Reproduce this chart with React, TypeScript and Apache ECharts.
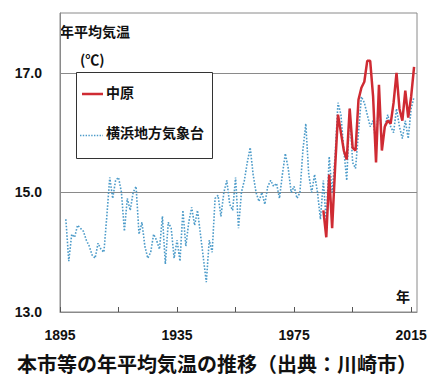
import React, { useEffect, useRef } from "react";
import * as echarts from "echarts";

const yokohamaStartYear = 1897;
const yokohamaTemps = [
  14.55, 13.85, 14.3, 14.25, 14.45, 14.4, 14.35, 14.2, 14.1, 13.95,
  13.9, 14.15, 14.05, 14.0, 14.6, 15.25, 14.9, 15.2, 15.25, 15.0,
  14.35, 14.9, 14.7, 15.0, 15.1, 14.3, 14.5, 14.1, 13.9, 14.0,
  14.3, 14.2, 14.05, 14.6, 13.8, 14.5, 14.4, 13.9, 14.2, 13.85,
  14.7, 14.1, 14.5, 14.75, 14.45, 14.7, 14.3, 13.9, 13.5, 14.2,
  14.0, 14.9, 14.95, 14.6, 15.0, 15.2, 14.8, 14.7, 15.25, 14.4,
  15.0, 15.2, 15.5, 15.75, 15.3, 15.0, 14.85, 15.0, 14.8, 15.1,
  15.2, 15.1, 15.15, 14.9, 15.3, 15.65, 15.4, 15.0, 15.1, 14.9,
  15.0, 15.7, 16.15, 15.3, 15.0, 15.3, 15.0, 14.55, 15.2, 14.5,
  15.6, 15.0, 15.6, 16.5, 16.3, 15.7, 15.2, 16.4, 15.5, 15.4,
  16.0, 16.6, 16.5, 16.3, 16.1, 16.2, 15.8, 16.6, 15.8, 16.1,
  16.3, 16.1, 16.0, 16.4, 16.1, 15.9, 16.2, 15.9, 16.4, 16.6,
];

const nakaharaStartYear = 1985;
const nakaharaTemps = [
  14.7, 14.25, 15.3, 14.4, 15.4, 16.3, 16.0, 15.7, 15.55, 16.4,
  15.75, 15.7, 16.55, 16.75, 16.85, 17.2, 17.2, 16.6, 15.5, 16.8,
  15.7, 16.1, 16.2, 16.15, 16.5, 17.0, 16.4, 16.2, 16.7, 16.25,
  16.6, 17.1,
];

const xTickYears = [1895, 1915, 1935, 1955, 1975, 1995, 2015];
const xLabelYears = [1895, 1935, 1975, 2015];
const yTickValues = [13, 15, 17];

const seriesNames = ["中原", "横浜地方気象台"];
const chartTitle = "本市等の年平均気温の推移（出典：川崎市）";

const RED = "#cf2b33";
const BLUE = "#4c9bc9";

const toPairs = (start: number, vals: number[]) =>
  vals.map((v, i) => [start + i, v]);

const JP = "'Noto Sans CJK JP', 'Noto Sans', sans-serif";
const NUM = "'Liberation Sans', Arial, sans-serif";

export default function App() {
  const ref = useRef<HTMLDivElement>(null);
  useEffect(() => {
    if (!ref.current) return;
    const chart = echarts.init(ref.current, null, { renderer: "svg" });
    const legendText = (text: string, y: number) => ({
      type: "text",
      left: 106,
      top: y - 10,
      z: 20,
      style: { text, fontFamily: JP, fontSize: 14, fontWeight: "bold", fill: "#111" },
    });
    chart.setOption({
      animation: false,
      backgroundColor: "#ffffff",
      title: {
        text: chartTitle,
        left: 17,
        top: 352,
        padding: 0,
        textStyle: { fontFamily: JP, fontSize: 20, lineHeight: 22, fontWeight: "bold", color: "#111" },
      },
      grid: {
        left: 60,
        right: 14,
        top: 13,
        bottom: 64,
        show: true,
        borderColor: "#8a8a8a",
        borderWidth: 1,
        backgroundColor: "transparent",
      },
      xAxis: {
        type: "value",
        min: 1895,
        max: 2017,
        axisLine: { show: true, lineStyle: { color: "#8a8a8a" } },
        axisTick: {
          show: true,
          inside: true,
          length: 5,
          customValues: xTickYears,
          lineStyle: { color: "#555" },
        },
        axisLabel: {
          customValues: xLabelYears,
          margin: 15,
          fontFamily: NUM,
          fontSize: 14,
          lineHeight: 16,
          fontWeight: "bold",
          color: "#111",
          formatter: (v: number) => String(v),
        },
        splitLine: { show: false },
      },
      yAxis: {
        type: "value",
        min: 13,
        max: 18,
        axisLine: { show: true, lineStyle: { color: "#8a8a8a" } },
        axisTick: { show: false, customValues: yTickValues },
        axisLabel: {
          customValues: yTickValues,
          margin: 18,
          fontFamily: NUM,
          fontSize: 14,
          fontWeight: "bold",
          color: "#111",
          formatter: (v: number) => v.toFixed(1),
        },
        splitLine: { show: true, lineStyle: { color: "#8a8a8a", width: 1 } },
      },
      graphic: [
        {
          type: "text",
          left: 60,
          top: 24,
          style: { text: "年平均気温", fontFamily: JP, fontSize: 14, fontWeight: "bold", fill: "#111" },
        },
        {
          type: "text",
          left: 80,
          top: 52,
          style: { text: "(℃)", fontFamily: JP, fontSize: 14, fontWeight: "bold", fill: "#111" },
        },
        {
          type: "text",
          left: 396,
          top: 289,
          style: { text: "年", fontFamily: JP, fontSize: 14, fontWeight: "bold", fill: "#111" },
        },
        {
          type: "rect",
          z: 19,
          shape: { x: 76.5, y: 72.5, width: 136, height: 86 },
          style: { fill: "#ffffff", stroke: "#333", lineWidth: 1 },
        },
        {
          type: "line",
          z: 20,
          shape: { x1: 82, y1: 94, x2: 103, y2: 94 },
          style: { stroke: RED, lineWidth: 2.5 },
        },
        legendText(seriesNames[0], 95),
        {
          type: "line",
          z: 20,
          shape: { x1: 80, y1: 135.5, x2: 103, y2: 135.5 },
          style: { stroke: BLUE, lineWidth: 1.4, lineDash: [1.4, 1.4] },
        },
        legendText(seriesNames[1], 135),
      ],
      series: [
        {
          name: seriesNames[1],
          type: "line",
          data: toPairs(yokohamaStartYear, yokohamaTemps),
          symbol: "none",
          lineStyle: { color: BLUE, width: 1.6, type: "dotted" },
          itemStyle: { color: BLUE },
          z: 2,
        },
        {
          name: seriesNames[0],
          type: "line",
          data: toPairs(nakaharaStartYear, nakaharaTemps),
          symbol: "none",
          lineStyle: { color: RED, width: 2.5 },
          itemStyle: { color: RED },
          z: 3,
        },
      ],
    });
    return () => chart.dispose();
  }, []);
  return (
    <div
      ref={ref}
      style={{ position: "fixed", left: 0, top: 0, width: 431, height: 376, background: "#fff" }}
    />
  );
}
